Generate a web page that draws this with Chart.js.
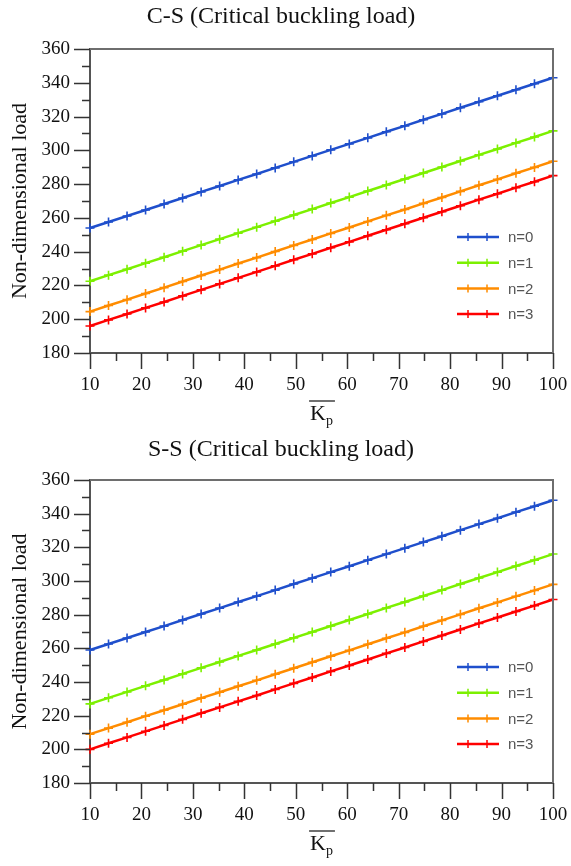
<!DOCTYPE html>
<html>
<head>
<meta charset="utf-8">
<script src="https://cdn.jsdelivr.net/npm/chart.js@4.4.1/dist/chart.umd.min.js"></script>
<style>
  body { margin: 0; background: #fff; }
  canvas { display: block; }
</style>
</head>
<body>
<canvas id="chartCS" width="571" height="433"></canvas>
<canvas id="chartSS" width="571" height="433"></canvas>
<script>
// stiffness parameter Kp (x axis)
const kp = [10, 13.6, 17.2, 20.8, 24.4, 28, 31.6, 35.2, 38.8, 42.4, 46, 49.6, 53.2,
            56.8, 60.4, 64, 67.6, 71.2, 74.8, 78.4, 82, 85.6, 89.2, 92.8, 96.4, 100];

const seriesNames = ['n=0', 'n=1', 'n=2', 'n=3'];
const seriesColors = ['#1f4fcc', '#7cf000', '#ff8c00', '#ff0000'];

// C-S critical buckling load
const csN0 = [254.0, 257.6, 261.1, 264.7, 268.2, 271.8, 275.4, 278.9, 282.5, 286.0, 289.6, 293.2, 296.7,
              300.3, 303.8, 307.4, 311.0, 314.5, 318.1, 321.6, 325.2, 328.8, 332.3, 335.9, 339.4, 343.0];
const csN1 = [222.5, 226.1, 229.6, 233.2, 236.7, 240.3, 243.9, 247.4, 251.0, 254.5, 258.1, 261.7, 265.2,
              268.8, 272.3, 275.9, 279.5, 283.0, 286.6, 290.1, 293.7, 297.3, 300.8, 304.4, 307.9, 311.5];
const csN2 = [204.5, 208.1, 211.6, 215.2, 218.7, 222.3, 225.9, 229.4, 233.0, 236.5, 240.1, 243.7, 247.2,
              250.8, 254.3, 257.9, 261.5, 265.0, 268.6, 272.1, 275.7, 279.3, 282.8, 286.4, 289.9, 293.5];
const csN3 = [196.0, 199.6, 203.1, 206.7, 210.2, 213.8, 217.4, 220.9, 224.5, 228.0, 231.6, 235.2, 238.7,
              242.3, 245.8, 249.4, 253.0, 256.5, 260.1, 263.6, 267.2, 270.8, 274.3, 277.9, 281.4, 285.0];

// S-S critical buckling load
const ssN0 = [259.0, 262.6, 266.1, 269.7, 273.2, 276.8, 280.4, 283.9, 287.5, 291.0, 294.6, 298.2, 301.7,
              305.3, 308.8, 312.4, 316.0, 319.5, 323.1, 326.6, 330.2, 333.8, 337.3, 340.9, 344.4, 348.0];
const ssN1 = [227.0, 230.6, 234.1, 237.7, 241.2, 244.8, 248.4, 251.9, 255.5, 259.0, 262.6, 266.2, 269.7,
              273.3, 276.8, 280.4, 284.0, 287.5, 291.1, 294.6, 298.2, 301.8, 305.3, 308.9, 312.4, 316.0];
const ssN2 = [209.0, 212.6, 216.1, 219.7, 223.2, 226.8, 230.4, 233.9, 237.5, 241.0, 244.6, 248.2, 251.7,
              255.3, 258.8, 262.4, 266.0, 269.5, 273.1, 276.6, 280.2, 283.8, 287.3, 290.9, 294.4, 298.0];
const ssN3 = [200.0, 203.6, 207.1, 210.7, 214.2, 217.8, 221.4, 224.9, 228.5, 232.0, 235.6, 239.2, 242.7,
              246.3, 249.8, 253.4, 257.0, 260.5, 264.1, 267.6, 271.2, 274.8, 278.3, 281.9, 285.4, 289.0];

const yMin = 180, yMax = 360, yStep = 20, yMinor = 10;
const xMin = 10, xMax = 100, xStep = 10, xMinor = 5;

const serif = '"Liberation Serif", "DejaVu Serif", serif';
const sans = '"Liberation Sans", Arial, sans-serif';

// draws the plot frame, outward tick marks, titles and the inset legend
const decorPlugin = {
    id: 'decor',
    afterDraw(chart, args, opts) {
        const ctx = chart.ctx;
        const area = chart.chartArea;
        const xs = chart.scales.x, ys = chart.scales.y;
        ctx.save();

        // top and right frame
        ctx.strokeStyle = '#6e6e6e';
        ctx.lineWidth = 2;
        ctx.beginPath();
        ctx.moveTo(area.left, area.top);
        ctx.lineTo(area.right, area.top);
        ctx.lineTo(area.right, area.bottom);
        ctx.stroke();

        // ticks
        ctx.strokeStyle = '#333';
        ctx.lineWidth = 1.5;
        ctx.beginPath();
        for (let v = yMin; v <= yMax; v += yMinor) {
            const y = Math.round(ys.getPixelForValue(v)) + 0.5;
            const len = (v - yMin) % yStep === 0 ? 16 : 8;
            ctx.moveTo(area.left - len, y);
            ctx.lineTo(area.left, y);
        }
        for (let v = xMin; v <= xMax; v += xMinor) {
            const x = Math.round(xs.getPixelForValue(v)) + 0.5;
            const len = (v - xMin) % xStep === 0 ? 16 : 8;
            ctx.moveTo(x, area.bottom);
            ctx.lineTo(x, area.bottom + len);
        }
        ctx.stroke();

        // chart title
        ctx.fillStyle = '#111';
        ctx.font = '24px ' + serif;
        ctx.textAlign = 'center';
        ctx.textBaseline = 'middle';
        ctx.fillText(opts.title, 281, 17);

        // x axis title: K with overline, subscript p
        const cx = (area.left + area.right) / 2;
        const ky = area.bottom + 67;
        ctx.font = '22px ' + serif;
        ctx.textAlign = 'left';
        ctx.textBaseline = 'alphabetic';
        const kw = ctx.measureText('K').width;
        ctx.font = '14px ' + serif;
        const pw = ctx.measureText('p').width;
        const x0 = cx - (kw + pw) / 2;
        ctx.font = '22px ' + serif;
        ctx.fillText('K', x0, ky);
        ctx.font = '14px ' + serif;
        ctx.fillText('p', x0 + kw, ky + 5);
        ctx.strokeStyle = '#111';
        ctx.lineWidth = 1.2;
        ctx.beginPath();
        ctx.moveTo(x0 - 1, ky - 19);
        ctx.lineTo(x0 + kw + pw + 2, ky - 19);
        ctx.stroke();

        // legend
        const lx = 457, lw = 42;
        const ly0 = area.bottom - 116;
        ctx.font = '15px ' + sans;
        ctx.textBaseline = 'middle';
        chart.data.datasets.forEach((ds, i) => {
            const y = ly0 + i * 25.7;
            ctx.strokeStyle = ds.borderColor;
            ctx.lineWidth = 2.5;
            ctx.beginPath();
            ctx.moveTo(lx, y);
            ctx.lineTo(lx + lw, y);
            ctx.stroke();
            ctx.lineWidth = 1.5;
            ctx.beginPath();
            [lx + 11, lx + 30].forEach(mx => {
                ctx.moveTo(mx, y - 4);
                ctx.lineTo(mx, y + 4);
            });
            ctx.stroke();
            ctx.fillStyle = '#555';
            ctx.fillText(ds.label, lx + 51, y + 1);
        });

        ctx.restore();
    }
};

function makeChart(canvasId, title, series, padTop, xHeight) {
    const datasets = series.map((vals, i) => ({
        label: seriesNames[i],
        data: kp.map((x, j) => ({ x: x, y: vals[j] })),
        borderColor: seriesColors[i],
        backgroundColor: seriesColors[i],
        borderWidth: 2.5,
        pointStyle: 'cross',
        pointRadius: 4.5,
        pointBorderWidth: 1.6,
        clip: false
    }));

    return new Chart(document.getElementById(canvasId), {
        type: 'line',
        data: { datasets: datasets },
        plugins: [decorPlugin],
        options: {
            responsive: false,
            animation: false,
            devicePixelRatio: 1,
            layout: { padding: { top: padTop, right: 18, left: 0, bottom: 0 } },
            plugins: {
                legend: { display: false },
                tooltip: { enabled: false },
                decor: { title: title }
            },
            scales: {
                x: {
                    type: 'linear',
                    min: xMin,
                    max: xMax,
                    afterFit: scale => {
                        scale.height = xHeight;
                        scale.paddingLeft = 0;
                        scale.paddingRight = 0;
                    },
                    ticks: {
                        stepSize: xStep,
                        padding: 21,
                        color: '#111',
                        font: { family: serif, size: 19 },
                        maxRotation: 0
                    },
                    grid: { drawOnChartArea: false, drawTicks: false },
                    border: { color: '#555', width: 2 }
                },
                y: {
                    min: yMin,
                    max: yMax,
                    afterFit: scale => {
                        scale.width = 90;
                        scale.paddingTop = 0;
                        scale.paddingBottom = 0;
                    },
                    ticks: {
                        stepSize: yStep,
                        padding: 20,
                        color: '#111',
                        font: { family: serif, size: 19 }
                    },
                    grid: { drawOnChartArea: false, drawTicks: false },
                    border: { color: '#555', width: 2 },
                    title: {
                        display: true,
                        text: 'Non-dimensional load',
                        color: '#111',
                        font: { family: serif, size: 22 },
                        padding: { top: 7, bottom: 0 }
                    }
                }
            }
        }
    });
}

makeChart('chartCS', 'C-S (Critical buckling load)', [csN0, csN1, csN2, csN3], 49, 80);
makeChart('chartSS', 'S-S (Critical buckling load)', [ssN0, ssN1, ssN2, ssN3], 47, 83);
</script>
</body>
</html>
